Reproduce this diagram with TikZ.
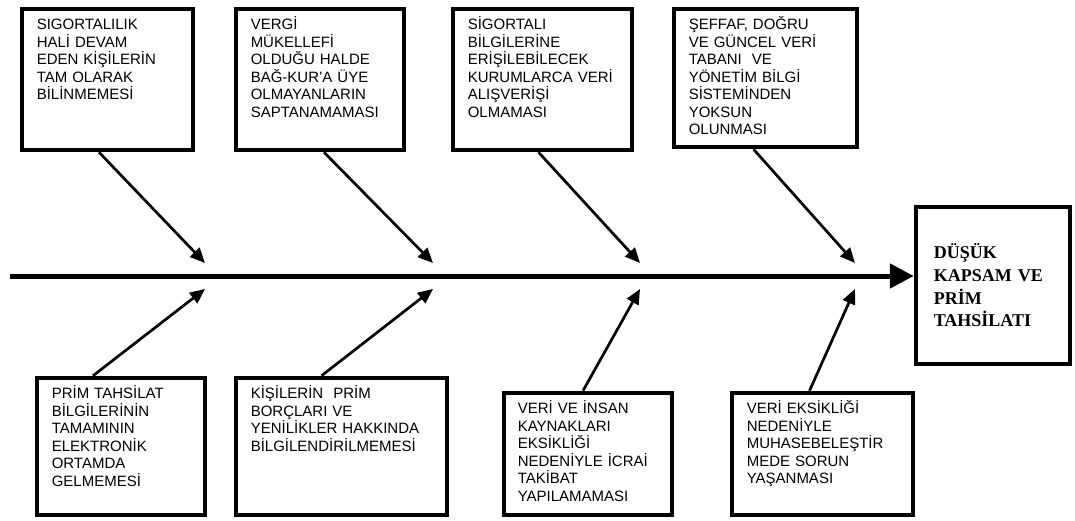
\documentclass[tikz,border=0pt]{standalone}
\usepackage{fontspec}
\setmainfont{Liberation Sans}
\newfontfamily\sonucfont{Liberation Serif}
\usetikzlibrary{arrows.meta}

\begin{document}
\begin{tikzpicture}[x=1pt, y=-1pt,
    neden/.style={draw, line width=4pt, anchor=north west, align=left,
      inner xsep=15pt, inner ysep=10pt, text height=11pt,
      font=\fontsize{15}{17.5}\selectfont},
    sonuc/.style={draw, line width=4pt, anchor=north west, align=left,
      inner xsep=18pt, minimum width=154.5pt, minimum height=157.5pt,
      text width=118.5pt, font=\sonucfont\bfseries\fontsize{18}{22.7}\selectfont},
    ok/.style={line width=2.7pt, -{Triangle[length=15pt,width=13pt]}},
    omurga/.style={line width=5pt, -{Triangle[length=24pt,width=24pt]}}
]
\useasboundingbox (0,0) rectangle (1075,521);

% Ust nedenler
\node[neden, text width=141.5pt, text depth=110.5pt] (b1) at (19.75,6.75)
  {SIGORTALILIK\\HALİ DEVAM\\EDEN KİŞİLERİN\\TAM OLARAK\\BİLİNMEMESİ};
\node[neden, text width=138.5pt, text depth=110.5pt] (b2) at (233.75,6.75)
  {VERGİ\\MÜKELLEFİ\\OLDUĞU HALDE\\BAĞ-KUR'A ÜYE\\OLMAYANLARIN\\SAPTANAMAMASI};
\node[neden, text width=149.5pt, text depth=110.5pt] (b3) at (450.75,6.75)
  {SİGORTALI\\BİLGİLERİNE\\ERİŞİLEBİLECEK\\KURUMLARCA VERİ\\ALIŞVERİŞİ\\OLMAMASI};
\node[neden, text width=153.5pt, text depth=107.5pt] (b4) at (671.75,6.75)
  {ŞEFFAF, DOĞRU\\VE GÜNCEL VERİ\\TABANI~ VE\\YÖNETİM BİLGİ\\SİSTEMİNDEN\\YOKSUN\\OLUNMASI};

% Alt nedenler
\node[neden, text width=138.5pt, text depth=106.5pt] (b5) at (34.75,375.75)
  {PRİM TAHSİLAT\\BİLGİLERİNİN\\TAMAMININ\\ELEKTRONİK\\ORTAMDA\\GELMEMESİ};
\node[neden, text width=181.5pt, text depth=106.5pt] (b6) at (233.75,375.75)
  {KİŞİLERİN~ PRİM\\BORÇLARI VE\\YENİLİKLER HAKKINDA\\BİLGİLENDİRİLMEMESİ};
\node[neden, inner xsep=14pt, text width=140.5pt, text depth=91.5pt] (b7) at (501.75,390.75)
  {VERİ VE İNSAN\\KAYNAKLARI\\EKSİKLİĞİ\\NEDENİYLE İCRAİ\\TAKİBAT\\YAPILAMAMASI};
\node[neden, text width=151.5pt, text depth=91.5pt] (b8) at (729.75,390.75)
  {VERİ EKSİKLİĞİ\\NEDENİYLE\\MUHASEBELEŞTİR\\MEDE SORUN\\YAŞANMASI};

% Sonuc
\node[sonuc] (son) at (913.75,204.75) {DÜŞÜK\\KAPSAM VE\\PRİM\\TAHSİLATI};

% Ana ok
\coordinate (bas) at (10,276);
\draw[omurga] (bas) -- (bas -| son.west);

% Ok uclari
\coordinate (u1) at (205,263);
\coordinate (u2) at (433,263);
\coordinate (u3) at (640,263);
\coordinate (u4) at (855,263);
\coordinate (a1) at (205,289);
\coordinate (a2) at (433,289);
\coordinate (a3) at (640,289);
\coordinate (a4) at (855,289);

\draw[ok] ([xshift=-8.5pt]b1.south) -- (u1);
\draw[ok] ([xshift=4pt]b2.south) -- (u2);
\draw[ok] ([xshift=-4pt]b3.south) -- (u3);
\draw[ok] ([xshift=-12pt]b4.south) -- (u4);

\draw[ok] ([xshift=-28pt]b5.north) -- (a1);
\draw[ok] ([xshift=-20pt]b6.north) -- (a2);
\draw[ok] ([xshift=-5pt]b7.north) -- (a3);
\draw[ok] ([xshift=-13pt]b8.north) -- (a4);
\end{tikzpicture}
\end{document}
